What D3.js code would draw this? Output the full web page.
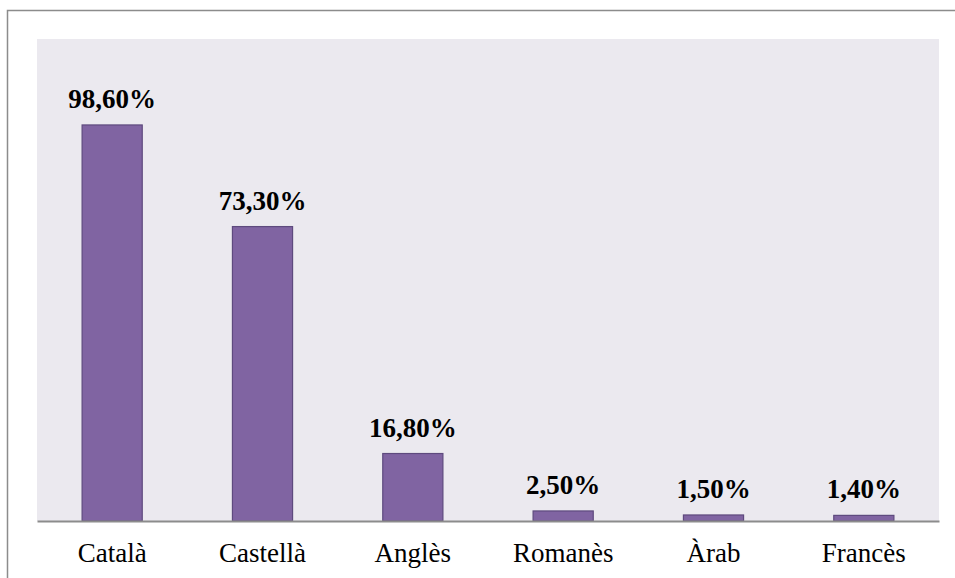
<!DOCTYPE html>
<html><head><meta charset="utf-8">
<script src="https://cdn.jsdelivr.net/npm/d3@7"></script>
<style>html,body{margin:0;padding:0;background:#fff;overflow:hidden}</style>
</head><body>
<script>
const categories = ["Català", "Castellà", "Anglès", "Romanès", "Àrab", "Francès"];
const values = [98.6, 73.3, 16.8, 2.5, 1.5, 1.4];
const valueLabels = ["98,60%", "73,30%", "16,80%", "2,50%", "1,50%", "1,40%"];

const W = 955, H = 578;
const svg = d3.select("body").append("svg").attr("width", W).attr("height", H);

// outer frame (right/bottom edges fall outside the view)
svg.append("rect").attr("x", 7.5).attr("y", 10.5).attr("width", 1000).attr("height", 700)
  .attr("fill", "#fff").attr("stroke", "#8c8c8c").attr("stroke-width", 1.5);

const plot = {x0: 37, x1: 939, y0: 39, y1: 521};
svg.append("rect").attr("x", plot.x0).attr("y", plot.y0)
  .attr("width", plot.x1 - plot.x0).attr("height", plot.y1 - plot.y0).attr("fill", "#ebe9ef");

const x = d3.scaleBand().domain(categories).range([plot.x0, plot.x1]).padding(0);
const y = d3.scaleLinear().domain([0, 120]).range([plot.y1, plot.y0]);
const bw = x.bandwidth() * 0.4;

svg.selectAll("rect.bar").data(values).join("rect").attr("class", "bar")
  .attr("x", (d, i) => x(categories[i]) + (x.bandwidth() - bw) / 2)
  .attr("y", d => y(d))
  .attr("width", bw)
  .attr("height", d => y(0) - y(d))
  .attr("fill", "#8064a2").attr("stroke", "#5e4a7e").attr("stroke-width", 1.2);

svg.selectAll("text.val").data(values).join("text").attr("class", "val")
  .attr("x", (d, i) => x(categories[i]) + x.bandwidth() / 2)
  .attr("y", d => y(d) - 17)
  .attr("text-anchor", "middle")
  .attr("font-family", "'Liberation Serif', 'Times New Roman', serif")
  .attr("font-weight", "bold").attr("font-size", 27).attr("fill", "#000")
  .text((d, i) => valueLabels[i]);

const axis = d3.axisBottom(x).tickSize(0).tickPadding(0);
const g = svg.append("g").attr("transform", `translate(0,${plot.y1})`).call(axis);
g.select(".domain").attr("stroke", "#8c8c8c").attr("stroke-width", 2);
g.selectAll("text").attr("font-family", "'Liberation Serif', 'Times New Roman', serif")
  .attr("font-size", 27).attr("fill", "#000").attr("dy", null).attr("y", 41);
</script>
</body></html>
